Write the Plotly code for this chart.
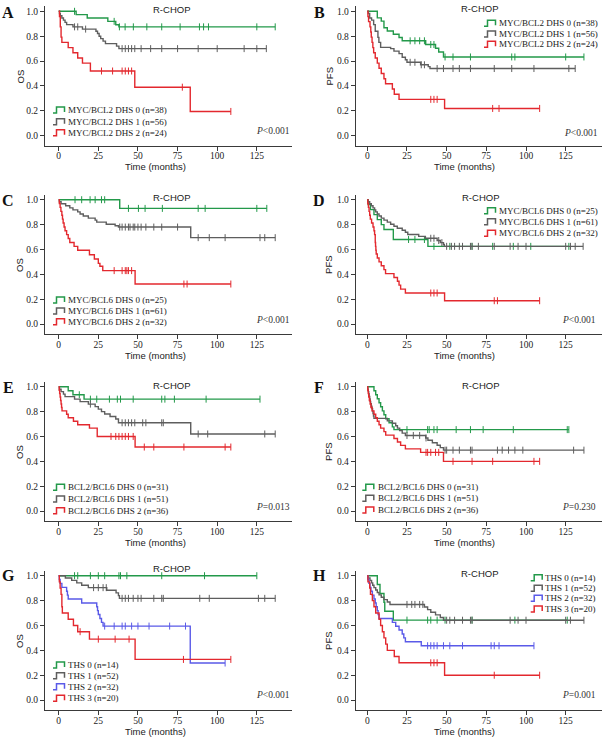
import plotly.graph_objects as go

# ---------------- DATA ----------------
# Each curve: event times (t), survival after each event (s), censor times (c)

# Panel A : OS, MYC/BCL2 DHS
A_t0 = [11, 18, 31, 36, 38]
A_s0 = [0.973, 0.946, 0.919, 0.892, 0.875]
A_c0 = [10, 35, 38.3, 41.9, 47.1, 55.6, 65, 76.6, 88.8, 91.4, 94.5, 125, 136.6]
A_t1 = [0.5, 1, 2, 3, 4, 5, 9, 15, 23.5, 24.5, 25.5, 26.5, 28, 29.5, 36.5, 38]
A_s1 = [0.982, 0.964, 0.946, 0.929, 0.911, 0.893, 0.875, 0.857, 0.839, 0.821, 0.80, 0.78, 0.76, 0.74, 0.72, 0.70]
A_c1 = [10, 12, 17, 40, 42, 44, 46, 48, 52, 58, 65, 75, 88, 100, 117, 125, 131]
A_t2 = [0.5, 1, 1.5, 2, 6, 9, 12, 15, 20, 48, 83]
A_s2 = [0.958, 0.875, 0.792, 0.75, 0.708, 0.667, 0.625, 0.583, 0.52, 0.39, 0.195]
A_c2 = [27, 34, 40, 42, 44, 46, 78, 108.6]

# Panel B : PFS, MYC/BCL2 DHS
B_t0 = [6.3, 8.8, 10.5, 12.6, 16.4, 20, 22, 36.8, 43, 45, 48]
B_s0 = [0.947, 0.921, 0.868, 0.842, 0.816, 0.789, 0.763, 0.733, 0.703, 0.673, 0.633]
B_c0 = [27, 30, 33, 36, 40, 42, 49, 54, 65, 91, 93, 125, 136.5]
B_t1 = [0.6, 1.5, 2.7, 4, 5, 6.7, 7.3, 8.4, 14.7, 16.8, 20, 22, 24, 25, 33.6, 38.4, 39.5]
B_s1 = [0.982, 0.946, 0.929, 0.893, 0.84, 0.79, 0.75, 0.71, 0.70, 0.68, 0.66, 0.63, 0.61, 0.59, 0.57, 0.555, 0.54]
B_c1 = [27, 30, 34, 36, 44, 48, 54, 58, 65, 80, 91, 105, 127, 131]
B_t2 = [0.4, 0.8, 1.7, 2.2, 2.5, 3, 3.5, 4, 5, 6.3, 7.4, 8.8, 10.5, 11.5, 15.8, 17, 20, 48.7]
B_s2 = [0.958, 0.917, 0.875, 0.833, 0.792, 0.75, 0.708, 0.667, 0.625, 0.583, 0.542, 0.5, 0.458, 0.417, 0.375, 0.333, 0.292, 0.219]
B_c2 = [40, 42, 44, 79, 83, 108.6]

# Panel C : OS, MYC/BCL6 DHS
C_t0 = [38.5]
C_s0 = [0.93]
C_c0 = [10.3, 14.5, 19.8, 23, 27, 29, 44, 50.3, 54.5, 65.4, 88, 92.4, 125, 131.3]
C_t1 = [0.4, 1.5, 4.4, 7, 9, 12, 13.5, 15.5, 18.7, 23, 24, 30, 35.6, 37.7, 83.3]
C_s1 = [0.984, 0.967, 0.951, 0.934, 0.918, 0.902, 0.885, 0.869, 0.852, 0.836, 0.82, 0.803, 0.79, 0.78, 0.695]
C_c1 = [38.5, 40, 42, 44, 45, 47, 48, 50, 52, 55, 60, 65, 75, 88, 95, 105, 127, 130, 136.6]
C_t2 = [0.4, 0.9, 1.4, 2, 2.4, 2.8, 3.4, 4, 5, 6, 7, 9.7, 12, 19.4, 22.5, 25, 26, 27.8, 48.2]
C_s2 = [0.969, 0.938, 0.906, 0.875, 0.844, 0.813, 0.781, 0.75, 0.719, 0.688, 0.656, 0.625, 0.594, 0.558, 0.523, 0.488, 0.465, 0.43, 0.322]
C_c2 = [35, 40, 42, 43, 44, 46, 79, 81, 108.6]

# Panel D : PFS, MYC/BCL6 DHS
D_t0 = [0.5, 2, 4.2, 6.3, 8.8, 10.5, 16.4, 38.2]
D_s0 = [0.96, 0.92, 0.88, 0.84, 0.80, 0.76, 0.68, 0.625]
D_c0 = [26, 30, 36, 42, 52, 66, 79, 92, 103, 127]
D_t1 = [0.4, 1.5, 2.5, 3.6, 4.6, 5.3, 6.3, 7.4, 8.8, 10.5, 12.6, 14.7, 16.8, 18.9, 22, 24, 25.5, 32.4, 36.6, 44, 46, 48, 48.5]
D_s1 = [0.984, 0.967, 0.951, 0.934, 0.918, 0.902, 0.885, 0.869, 0.852, 0.836, 0.82, 0.803, 0.787, 0.77, 0.754, 0.738, 0.72, 0.705, 0.69, 0.672, 0.655, 0.64, 0.625]
D_c1 = [40, 42, 45, 47, 50, 53, 55, 58, 60, 65, 66, 70, 80, 90, 95, 100, 125, 128, 131, 136]
D_t2 = [0.3, 0.7, 1.1, 1.5, 1.9, 2.7, 3.6, 4.2, 4.6, 5, 5.2, 5.4, 5.6, 6.3, 7.4, 8.8, 10.5, 11.5, 16.8, 19, 20, 21, 24, 48.7]
D_s2 = [0.969, 0.938, 0.906, 0.875, 0.844, 0.813, 0.781, 0.75, 0.719, 0.656, 0.625, 0.594, 0.563, 0.531, 0.5, 0.469, 0.438, 0.406, 0.375, 0.344, 0.313, 0.281, 0.25, 0.188]
D_c2 = [40, 42, 44, 80, 82, 108.6]

# Panel E : OS, BCL2/BCL6 DHS
E_t0 = [6, 9, 16]
E_s0 = [0.968, 0.935, 0.90]
E_c0 = [13, 20, 24, 32, 37, 39, 47, 65, 67, 73, 93, 127]
E_t1 = [0.5, 1.5, 3, 4, 10, 13.5, 18.7, 23, 25, 27, 29, 32.4, 36, 37.7, 83.3]
E_s1 = [0.98, 0.96, 0.94, 0.92, 0.90, 0.88, 0.86, 0.84, 0.82, 0.80, 0.78, 0.76, 0.74, 0.71, 0.62]
E_c1 = [20, 40, 42, 44, 46, 48, 53, 55, 65, 66, 88, 94, 130, 136.6]
E_t2 = [0.3, 0.6, 0.9, 1.2, 1.5, 1.8, 2.1, 5, 6, 9.3, 12, 19.4, 24.3, 48.2]
E_s2 = [0.972, 0.944, 0.917, 0.889, 0.861, 0.833, 0.806, 0.778, 0.75, 0.722, 0.694, 0.667, 0.60, 0.515]
E_c2 = [33, 36, 38, 40, 42, 44, 47, 54, 60, 79, 105, 108.6]

# Panel F : PFS, BCL2/BCL6 DHS
F_t0 = [4.2, 5.3, 6.3, 7.4, 8.4, 9.5, 10.5, 11.6, 13.7, 15.8, 16.8]
F_s0 = [0.968, 0.935, 0.903, 0.871, 0.839, 0.806, 0.774, 0.742, 0.71, 0.677, 0.655]
F_c0 = [25, 38, 39, 42, 44, 56, 65, 73, 92, 126, 127]
F_t1 = [0.3, 0.6, 0.9, 1.2, 1.5, 1.8, 2.1, 2.5, 2.9, 3.3, 3.6, 3.9, 4.2, 12.6, 15.8, 17.9, 19, 20.4, 22, 24, 36.8, 38.2, 41, 44, 46, 48]
F_s1 = [0.98, 0.96, 0.941, 0.922, 0.902, 0.882, 0.863, 0.843, 0.824, 0.804, 0.784, 0.765, 0.745, 0.725, 0.706, 0.686, 0.667, 0.647, 0.627, 0.608, 0.588, 0.569, 0.549, 0.529, 0.51, 0.49]
F_c1 = [25, 29, 33, 37, 49, 50, 54, 58, 65, 66, 82, 85, 89, 93, 98, 130, 136.5]
F_t2 = [0.3, 0.6, 0.9, 1.3, 1.8, 2.3, 3.0, 4.2, 5.3, 6.3, 7.4, 8.4, 10.5, 11.6, 16.8, 19, 21, 24, 33.6, 48]
F_s2 = [0.972, 0.944, 0.917, 0.889, 0.861, 0.833, 0.806, 0.778, 0.75, 0.722, 0.694, 0.667, 0.639, 0.611, 0.583, 0.556, 0.528, 0.50, 0.472, 0.40]
F_c2 = [37, 38, 40, 43, 45, 54, 66, 79, 105, 108.6]

# Panel G : OS, THS
G_t0 = []
G_s0 = []
G_c0 = [10, 12, 20, 25, 29, 38, 39, 43, 65, 92, 125]
G_t1 = [4.2, 8.2, 11.4, 14.5, 18.7, 30.3, 36.2, 37.7, 38.3]
G_s1 = [0.981, 0.962, 0.942, 0.923, 0.904, 0.883, 0.862, 0.840, 0.818]
G_c1 = [22, 25, 28, 30, 40, 42, 44, 47, 50, 52, 60, 65, 66, 89, 95, 126, 130, 136.6]
G_t2 = [0.4, 0.9, 2, 5, 5.5, 6, 14.5, 24, 24.5, 25, 26, 27, 28, 83]
G_s2 = [0.969, 0.938, 0.906, 0.875, 0.844, 0.813, 0.781, 0.75, 0.719, 0.688, 0.656, 0.625, 0.595, 0.298]
G_c2 = [29, 35, 40, 42, 46, 50, 57, 70, 80, 105]
G_t3 = [0.4, 0.9, 1.5, 2, 2.3, 6, 9.3, 12, 19.4, 48.2]
G_s3 = [0.95, 0.90, 0.85, 0.75, 0.70, 0.65, 0.60, 0.55, 0.49, 0.327]
G_c3 = [13.5, 25, 35.6, 44.4, 78.7, 108.6]

# Panel H : PFS, THS
H_t0 = [6.3, 8, 10.5, 11, 16.4]
H_s0 = [0.929, 0.857, 0.786, 0.714, 0.643]
H_c0 = [25, 38, 40, 44, 49, 66, 93, 126]
H_t1 = [0.4, 1.7, 2.7, 3.4, 4.2, 5.3, 6.3, 7.4, 8.8, 10.5, 12.6, 14.3, 36, 38, 40, 43, 46, 48]
H_s1 = [0.981, 0.962, 0.942, 0.923, 0.904, 0.885, 0.865, 0.846, 0.827, 0.808, 0.788, 0.769, 0.748, 0.727, 0.706, 0.685, 0.664, 0.642]
H_c1 = [25, 28, 30, 33, 35, 50, 52, 55, 60, 65, 66, 90, 95, 100, 125, 128, 136.5]
H_t2 = [0.4, 1, 1.7, 2.3, 3.2, 4.2, 5, 5.6, 6.3, 6.8, 7.4, 15.8, 17.9, 20, 22, 23, 24, 34]
H_s2 = [0.969, 0.938, 0.906, 0.875, 0.844, 0.813, 0.781, 0.75, 0.719, 0.688, 0.656, 0.625, 0.594, 0.563, 0.531, 0.50, 0.469, 0.437]
H_c2 = [38, 40, 42, 44, 48, 52, 60, 78, 80, 83, 105]
H_t3 = [0.4, 1.5, 2, 3.2, 4.2, 5.3, 7.4, 8.4, 9.5, 10.5, 11.6, 12.6, 17, 20, 48.7]
H_s3 = [0.95, 0.90, 0.85, 0.80, 0.75, 0.70, 0.65, 0.60, 0.55, 0.50, 0.45, 0.40, 0.35, 0.30, 0.20]
H_c3 = [40, 42, 44, 80, 108.6]

panel_letters = ["A", "B", "C", "D", "E", "F", "G", "H"]
panel_ytitles = ["OS", "PFS", "OS", "PFS", "OS", "PFS", "OS", "PFS"]
panel_pvalues = ["&lt;0.001", "&lt;0.001", "&lt;0.001", "&lt;0.001", "=0.013", "=0.230", "&lt;0.001", "=0.001"]
labels_A = ["MYC/BCL2 DHS 0 (n=38)", "MYC/BCL2 DHS 1 (n=56)", "MYC/BCL2 DHS 2 (n=24)"]
labels_C = ["MYC/BCL6 DHS 0 (n=25)", "MYC/BCL6 DHS 1 (n=61)", "MYC/BCL6 DHS 2 (n=32)"]
labels_E = ["BCL2/BCL6 DHS 0 (n=31)", "BCL2/BCL6 DHS 1 (n=51)", "BCL2/BCL6 DHS 2 (n=36)"]
labels_G = ["THS 0 (n=14)", "THS 1 (n=52)", "THS 2 (n=32)", "THS 3 (n=20)"]
x_ticks = [0, 25, 50, 75, 100, 125]
y_ticks = [0.0, 0.2, 0.4, 0.6, 0.8, 1.0]

# ---------------- assembly ----------------
GREEN, GRAY, RED, BLUE = "#23994a", "#5e5e5e", "#e3282e", "#5a5ae8"
colors3 = [GREEN, GRAY, RED]
colors4 = [GREEN, GRAY, BLUE, RED]

panels = [
    [(A_t0, A_s0, A_c0), (A_t1, A_s1, A_c1), (A_t2, A_s2, A_c2)],
    [(B_t0, B_s0, B_c0), (B_t1, B_s1, B_c1), (B_t2, B_s2, B_c2)],
    [(C_t0, C_s0, C_c0), (C_t1, C_s1, C_c1), (C_t2, C_s2, C_c2)],
    [(D_t0, D_s0, D_c0), (D_t1, D_s1, D_c1), (D_t2, D_s2, D_c2)],
    [(E_t0, E_s0, E_c0), (E_t1, E_s1, E_c1), (E_t2, E_s2, E_c2)],
    [(F_t0, F_s0, F_c0), (F_t1, F_s1, F_c1), (F_t2, F_s2, F_c2)],
    [(G_t0, G_s0, G_c0), (G_t1, G_s1, G_c1), (G_t2, G_s2, G_c2), (G_t3, G_s3, G_c3)],
    [(H_t0, H_s0, H_c0), (H_t1, H_s1, H_c1), (H_t2, H_s2, H_c2), (H_t3, H_s3, H_c3)],
]
panel_labels = [labels_A, labels_A, labels_C, labels_C, labels_E, labels_E, labels_G, labels_G]

W, H = 607, 740
COLS = [dict(ax0=45.0, ax1=291.7, zero=58.7, ppm=1.585),
        dict(ax0=355.7, ax1=602.4, zero=367.3, ppm=1.587)]
ROW_TOP = [11.3, 199.7, 386.7, 575.7]
PPU = 124.4
YMIN, YMAX = -0.083, 1.04

# layout positions (pixels) of panel decorations
letter_pos = [(8, 12), (319, 12), (8, 200), (319, 200), (8, 387), (319, 387), (8, 575), (319, 575)]
title_pos = [(171.7, 10), (479, 8.5), (171.7, 197.7), (480.7, 197.7), (171.7, 385), (480.7, 385.7), (171.7, 568.3), (479, 573.3)]
pval_pos = [(292, 131), (600, 133), (292, 320), (598, 320), (292, 506.7), (598, 506.7), (292, 695), (598, 695)]
legend_pos = [(53, 66, [110, 121.7, 132.7]), (484, 497.3, [23.3, 34, 44.3]),
              (53, 66, [300, 311, 321.7]), (484, 497.3, [210.7, 221.7, 233.3]),
              (53, 66, [487.3, 499, 510.7]), (362.3, 375.7, [487.3, 498.3, 510]),
              (53, 66, [665, 675.7, 686.7, 698.3]), (530.7, 543.3, [577.7, 588.3, 598.3, 609])]


def px(x):
    return x / W


def py(y):
    return 1 - y / H


def surv_at(t, times, survs):
    v = 1.0
    for ti, si in zip(times, survs):
        if ti <= t:
            v = si
    return v


fig = go.Figure()
annotations = []
shapes = []
SERIF = "Liberation Serif"
SANS = "Liberation Sans"

for i, curves in enumerate(panels):
    row, col = i // 2, i % 2
    k = i + 1
    c = COLS[col]
    cols = colors4 if len(curves) == 4 else colors3
    xa, ya = "x" + (str(k) if k > 1 else ""), "y" + (str(k) if k > 1 else "")
    for (t, s, cens), colr in zip(curves, cols):
        end = max(cens + t)
        xs = [0] + list(t) + [end]
        ys = [1.0] + list(s) + [s[-1] if s else 1.0]
        fig.add_trace(go.Scatter(x=xs, y=ys, mode="lines", xaxis=xa, yaxis=ya,
                                 line=dict(color=colr, width=1.4, shape="hv"),
                                 showlegend=False, hoverinfo="skip"))
        fig.add_trace(go.Scatter(x=cens, y=[surv_at(v, t, s) for v in cens], mode="markers",
                                 xaxis=xa, yaxis=ya,
                                 marker=dict(symbol="line-ns", size=5, line=dict(color=colr, width=1)),
                                 showlegend=False, hoverinfo="skip"))
    top_px = ROW_TOP[row] - (YMAX - 1.0) * PPU
    bot_px = ROW_TOP[row] + PPU - YMIN * PPU
    axis_common = dict(showline=True, linecolor="#3a3a3a", linewidth=1, ticks="outside",
                       ticklen=4, tickcolor="#3a3a3a", tickwidth=1, showgrid=False, zeroline=False,
                       tickfont=dict(family=SERIF, size=9.5, color="#222"))
    fig.layout["xaxis" + (str(k) if k > 1 else "")] = dict(
        domain=[px(c["ax0"]), px(c["ax1"])],
        range=[(c["ax0"] - c["zero"]) / c["ppm"], (c["ax1"] - c["zero"]) / c["ppm"]],
        tickvals=x_ticks, anchor=ya, ticklabelstandoff=-3, **axis_common)
    fig.layout["yaxis" + (str(k) if k > 1 else "")] = dict(
        domain=[py(bot_px), py(top_px)], range=[YMIN, YMAX],
        tickvals=y_ticks, tickformat=".1f", anchor=xa, **axis_common)

    # decorations
    lx, ly = letter_pos[i]
    annotations.append(dict(text="<b>" + panel_letters[i] + "</b>", x=px(lx), y=py(ly), xref="paper", yref="paper",
                            xanchor="center", yanchor="middle", showarrow=False,
                            font=dict(family=SERIF, size=16, color="#111")))
    tx, ty = title_pos[i]
    annotations.append(dict(text="R-CHOP", x=px(tx), y=py(ty), xref="paper", yref="paper",
                            xanchor="center", yanchor="middle", showarrow=False,
                            font=dict(family=SANS, size=9.5, color="#222")))
    annotations.append(dict(text="Time (months)", x=px(c["zero"] + 62.5 * c["ppm"] - 2), y=py(ROW_TOP[row] + 155.5),
                            xref="paper", yref="paper", xanchor="center", yanchor="middle", showarrow=False,
                            font=dict(family=SANS, size=9.5, color="#222")))
    annotations.append(dict(text=panel_ytitles[i], x=px(20 if col == 0 else 329), y=py(ROW_TOP[row] + 0.5 * PPU + 3),
                            xref="paper", yref="paper", xanchor="center", yanchor="middle", textangle=-90,
                            showarrow=False, font=dict(family=SANS, size=9.5, color="#222")))
    pxx, pyy = pval_pos[i]
    annotations.append(dict(text="<i>P</i>" + panel_pvalues[i], x=px(pxx), y=py(pyy), xref="paper", yref="paper",
                            xanchor="right", yanchor="middle", showarrow=False,
                            font=dict(family=SERIF, size=9.5, color="#333")))
    ix, tx2, rows_y = legend_pos[i]
    for lab, colr, yy in zip(panel_labels[i], cols, rows_y):
        annotations.append(dict(text=lab, x=px(tx2), y=py(yy), xref="paper", yref="paper",
                                xanchor="left", yanchor="middle", showarrow=False,
                                font=dict(family=SERIF, size=9, color="#222")))
        yb, yt = yy + 3, yy - 3
        path = "M{},{} L{},{} L{},{} L{},{} L{},{}".format(
            px(ix), py(yb), px(ix + 3.5), py(yb), px(ix + 3.5), py(yt), px(ix + 11.5), py(yt), px(ix + 11.5), py(yb - 1))
        shapes.append(dict(type="path", path=path, xref="paper", yref="paper",
                           line=dict(color=colr, width=1.5)))

fig.update_layout(width=W, height=H, margin=dict(l=0, r=0, t=0, b=0),
                  paper_bgcolor="white", plot_bgcolor="white",
                  annotations=annotations, shapes=shapes, showlegend=False)
fig.write_html("out.html", config={"displayModeBar": False},
               post_script="document.body.style.margin='0';document.body.style.overflow='hidden';")
